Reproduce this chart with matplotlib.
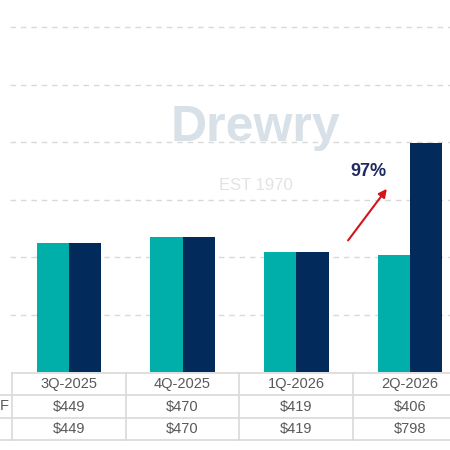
import matplotlib
matplotlib.use("Agg")
import matplotlib.pyplot as plt

categories = ["3Q-2025", "4Q-2025", "1Q-2026", "2Q-2026"]
series_a = [449, 470, 419, 406]
series_b = [449, 470, 419, 798]
row_a_labels = ["$449", "$470", "$419", "$406"]
row_b_labels = ["$449", "$470", "$419", "$798"]
grid_ticks = [200, 400, 600, 800, 1000, 1200]

teal = "#00AFAA"
navy = "#022B5C"
grid_c = "#D9D9D9"
text_c = "#595959"

plt.rcParams['font.family'] = ['Liberation Sans', 'DejaVu Sans']

W = H = 450.0
fig = plt.figure(figsize=(4.5, 4.5), dpi=100)

x0, x1 = 12, 467
base = 372
ax = fig.add_axes([x0 / W, 1 - base / H, (x1 - x0) / W, base / H])
ax.set_xlim(-0.5, 3.5)
ax.set_ylim(0, 1294)
for s in ax.spines.values():
    s.set_visible(False)
ax.set_xticks([])
ax.set_yticks([])

for g in grid_ticks:
    ax.plot([-0.52, 3.5], [g, g], color=grid_c, lw=1.0, ls=(0, (4, 3.5)), zorder=0, clip_on=False)

xs = list(range(len(categories)))
bw = 0.283
ax.bar([x - bw / 2 for x in xs], series_a, width=bw, color=teal, zorder=3)
ax.bar([x + bw / 2 for x in xs], series_b, width=bw, color=navy, zorder=3)

# watermark
ax.text(1.64, 850, "Drewry", fontsize=36, fontweight='bold', color="#D8E0E8",
        ha='center', va='center', zorder=1)
ax.text(1.64, 650, "EST 1970", fontsize=12, color="#E3E3E3", ha='center', va='center', zorder=1)

# annotation
ax.annotate("", xy=(2.81, 645), xytext=(2.44, 450),
            arrowprops=dict(arrowstyle="-|>", color="#D0161B", lw=1.5, mutation_scale=12), zorder=5)
ax.text(2.63, 698, "97%", fontsize=13, fontweight='bold', color="#1F2A60", ha='center', va='center', zorder=5)

# table
ty0, ty1 = 373, 440
tax = fig.add_axes([x0 / W, 1 - ty1 / H, (x1 - x0) / W, (ty1 - ty0) / H])
tax.set_xlim(-0.5, 3.5)
tax.set_ylim(0, 3)
tax.axis('off')
for y, left in [(3, -0.5), (2, -0.63), (1, -0.63), (0, -0.63)]:
    tax.plot([left, 3.5], [y, y], color=grid_c, lw=1.2, clip_on=False)
for xv in [-0.5, 0.5, 1.5, 2.5, 3.5]:
    tax.plot([xv, xv], [0, 3], color=grid_c, lw=1.2, clip_on=False)
for i in xs:
    tax.text(i, 2.5, categories[i], ha='center', va='center', fontsize=10.5, color=text_c)
    tax.text(i, 1.5, row_a_labels[i], ha='center', va='center', fontsize=10.5, color=text_c)
    tax.text(i, 0.5, row_b_labels[i], ha='center', va='center', fontsize=10.5, color=text_c)
tax.text(-0.53, 1.5, "F", ha='right', va='center', fontsize=10.5, color=text_c, clip_on=False)

fig.savefig("out.png", dpi=100)
